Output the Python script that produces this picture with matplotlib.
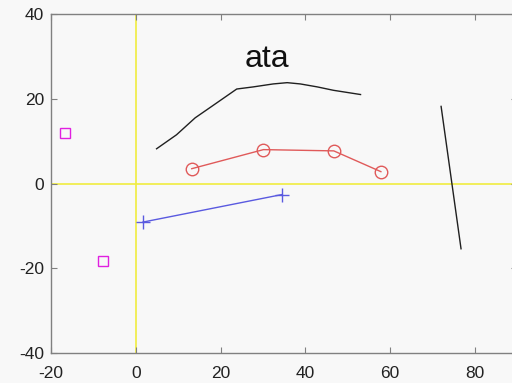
import matplotlib
matplotlib.use("Agg")
import matplotlib.pyplot as plt

# ===============================
# DATA
# ===============================
curve_x = [4.9, 9.6, 14.0, 17.9, 23.8, 27.7, 32.4, 35.7, 38.8, 42.8, 46.6, 53.0]
curve_y = [8.2, 11.5, 15.5, 18.2, 22.3, 22.8, 23.5, 23.8, 23.5, 22.8, 22.0, 21.0]

steep_x = [72.0, 76.7]
steep_y = [18.2, -15.4]

circle_x = [13.2, 30.1, 46.7, 57.8]
circle_y = [3.5, 8.0, 7.7, 2.8]

plus_x = [1.7, 34.5]
plus_y = [-9.1, -2.6]

square_x = [-16.8, -7.8]
square_y = [12.0, -18.4]

label_text = "ata"
label_pos = (31.0, 29.5)

xticks = [-20, 0, 20, 40, 60, 80]
yticks = [-40, -20, 0, 20, 40]

# ===============================
# FIGURE
# ===============================
plt.rcParams["font.family"] = ["Liberation Sans", "DejaVu Sans"]
plt.rcParams["axes.unicode_minus"] = False
BG = "#f8f8f8"

fig = plt.figure(figsize=(5.12, 3.83), dpi=100, facecolor=BG)
ax = fig.add_axes([0.0996, 0.0783, 0.911, 0.8851], facecolor=BG)

ax.axhline(0, color="#f0ec40", lw=1.2, zorder=1)
ax.axvline(0, color="#f0ec40", lw=1.2, zorder=1)

ax.plot(curve_x, curve_y, color="#202020", lw=1.0)
ax.plot(steep_x, steep_y, color="#202020", lw=1.0)
ax.plot(circle_x, circle_y, color="#e05a5a", lw=1.0, marker="o",
        markersize=9, markerfacecolor="none", markeredgewidth=1.0)
ax.plot(plus_x, plus_y, color="#5a5ae0", lw=1.0, marker="+",
        markersize=10, markeredgewidth=1.0)
ax.plot(square_x, square_y, linestyle="none", marker="s", color="#e020e0",
        markersize=7.5, markerfacecolor="none", markeredgewidth=1.0)

ax.text(label_pos[0], label_pos[1], label_text, fontsize=23,
        ha="center", va="center", color="#111111")

ax.set_xlim(-20, 90)
ax.set_ylim(-40, 40)
ax.set_xticks(xticks)
ax.set_yticks(yticks)
ax.tick_params(direction="in", length=4, width=0.8, color="#808080",
               labelsize=12.5, labelcolor="#222222", top=True, right=True)
ax.tick_params(axis="x", pad=9)
ax.tick_params(axis="y", pad=5)
for s in ax.spines.values():
    s.set_color("#808080")
    s.set_linewidth(1.0)

fig.savefig("out.png", dpi=100, facecolor=BG)
